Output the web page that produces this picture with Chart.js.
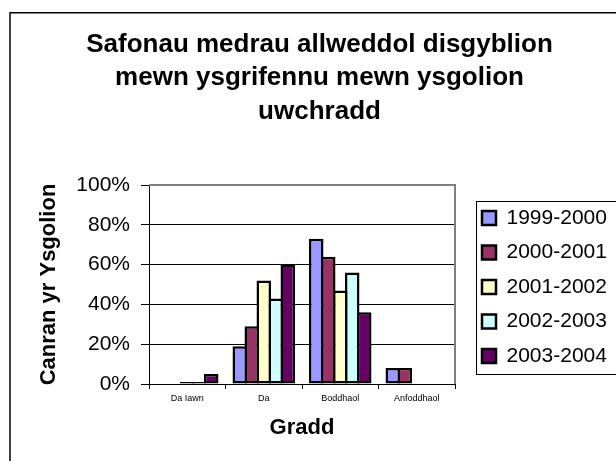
<!DOCTYPE html>
<html><head><meta charset="utf-8">
<script src="https://cdn.jsdelivr.net/npm/chart.js@4"></script>
<style>html,body{margin:0;padding:0;background:#fff}#wrap{width:616px;height:461px;position:relative}</style>
</head><body><div id="wrap"><canvas id="c" width="616" height="461"></canvas></div>
<script>
const categories = ['Da Iawn', 'Da', 'Boddhaol', 'Anfoddhaol'];
const seriesNames = ['1999-2000', '2000-2001', '2001-2002', '2002-2003', '2003-2004'];
const s1999_2000 = [0, 19, 73, 8];
const s2000_2001 = [0, 29, 64, 8];
const s2001_2002 = [1, 52, 47, 0];
const s2002_2003 = [1, 43, 56, 0];
const s2003_2004 = [5, 60, 36, 0];
const yTicks = [0, 20, 40, 60, 80, 100];
const titleLines = ['Safonau medrau allweddol disgyblion', 'mewn ysgrifennu mewn ysgolion', 'uwchradd'];
const yTitle = 'Canran yr Ysgolion';
const xTitle = 'Gradd';

const colors = ['#9999FF', '#993366', '#FFFFCC', '#CCFFFF', '#660066'];
const FF = "'Liberation Sans', Arial, Helvetica, sans-serif";
const seriesValues = [s1999_2000, s2000_2001, s2001_2002, s2002_2003, s2003_2004];

const framePlugin = {
  id: 'frame',
  beforeDraw(chart) {
    const c = chart.ctx; c.save(); c.fillStyle = '#fff'; c.fillRect(0, 0, chart.width, chart.height); c.restore();
  },
  afterDraw(chart) {
    const c = chart.ctx, a = chart.chartArea;
    c.save();
    c.strokeStyle = '#000'; c.lineWidth = 1.5;
    c.strokeRect(10, 12.75, 700, 700);
    c.strokeStyle = '#808080'; c.lineWidth = 2;
    c.beginPath(); c.moveTo(a.left, a.top); c.lineTo(a.right, a.top); c.lineTo(a.right, a.bottom); c.stroke();
    const hb = chart.legend.legendHitBoxes;
    if (hb && hb.length) {
      const top = hb[0].top - 6, last = hb[hb.length - 1];
      const bottom = last.top + last.height + 8;
      c.strokeStyle = '#000'; c.lineWidth = 1;
      c.strokeRect(Math.round(hb[0].left) - 5.5, Math.round(top) + 0.5, 300, Math.round(bottom - top));
    }
    c.restore();
  }
};

new Chart(document.getElementById('c'), {
  type: 'bar',
  data: {
    labels: categories,
    datasets: seriesNames.map((n, i) => ({
      label: n,
      data: seriesValues[i],
      backgroundColor: colors[i],
      borderColor: '#000',
      borderWidth: 2.5,
      borderSkipped: false,
      inflateAmount: 0,
      categoryPercentage: 0.784,
      barPercentage: 1.2083
    }))
  },
  options: {
    responsive: false,
    animation: false,
    devicePixelRatio: 1,
    layout: { padding: { left: 23, right: 0, top: 0, bottom: 0 } },
    plugins: {
      title: {
        display: true, text: titleLines, color: '#000',
        font: { family: FF, size: 26, weight: 'bold', lineHeight: 1.29 },
        padding: { top: 28, bottom: 56.4 }
      },
      legend: {
        position: 'right', fullSize: false, maxWidth: 147.5,
        title: { display: true, text: ' ', padding: 0, font: { family: FF, size: 4 } },
        labels: { color: '#000', font: { family: FF, size: 21 }, boxWidth: 14, boxHeight: 14, padding: 13.5 }
      },
      tooltip: { enabled: false }
    },
    scales: {
      x: {
        grid: { display: true, drawOnChartArea: false, drawTicks: true, tickLength: 5, color: '#000', offset: true },
        border: { color: '#000', width: 1 },
        ticks: { font: { family: FF, size: 9 }, color: '#000', padding: 4, maxRotation: 0, autoSkip: false },
        title: { display: true, text: xTitle, color: '#000', font: { family: FF, size: 22, weight: 'bold' }, padding: { top: 0, bottom: 19.8 } },
        afterFit(s) { s.height = 77; }
      },
      y: {
        min: 0, max: 100,
        afterBuildTicks(s) { s.ticks = yTicks.map(v => ({ value: v })); },
        ticks: { callback: v => v + '%', font: { family: FF, size: 21 }, color: '#000', padding: 11 },
        grid: { color: '#000', tickColor: '#000', tickLength: 8 },
        border: { color: '#000', width: 1 },
        title: { display: true, text: yTitle, color: '#000', font: { family: FF, size: 22, weight: 'bold' }, padding: { top: 12.8, bottom: 0 } },
        afterFit(s) { s.width = 126; }
      },
      yR: {
        position: 'right', display: true,
        grid: { display: false }, ticks: { display: false }, border: { display: false },
        afterFit(s) { s.width = 13.5; }
      }
    }
  },
  plugins: [framePlugin]
});
</script></body></html>
